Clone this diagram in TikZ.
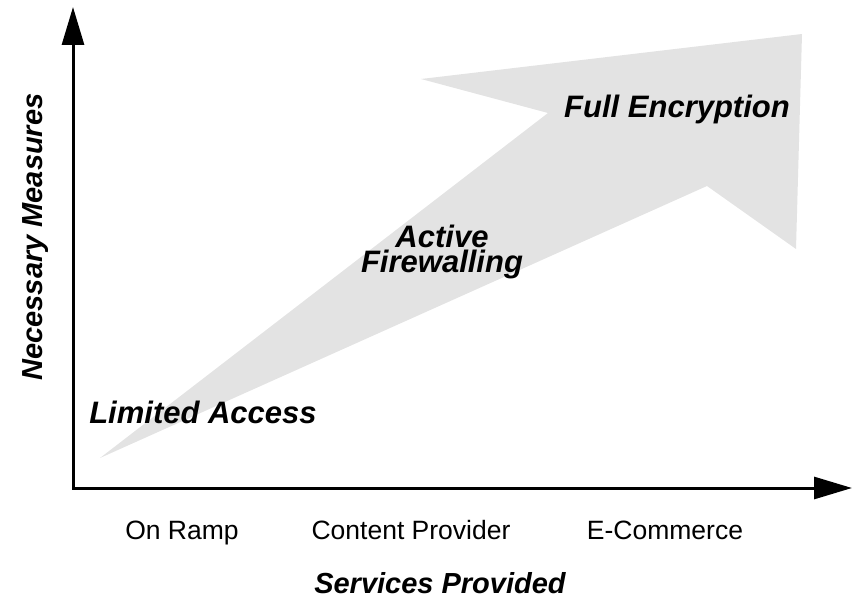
\documentclass[tikz,border=0pt]{standalone}
\usepackage{fontspec}
\setmainfont{Liberation Sans}
\usepackage{xcolor}
\definecolor{trendgray}{HTML}{E3E3E3}
\usepackage{tikz}
\usetikzlibrary{arrows.meta}

\begin{document}
\begin{tikzpicture}[x=1pt, y=-1pt,
    axis/.style={draw=black, line width=3pt, line join=miter,
                 {Triangle[length=38pt, width=22pt]}-{Triangle[length=38pt, width=22pt]}},
    trend/.style={fill=trendgray, draw=none},
    stage/.style={font=\fontsize{31}{25}\selectfont\bfseries\itshape, inner sep=0pt},
    axistitle/.style={font=\fontsize{29}{30}\selectfont\bfseries\itshape, inner sep=0pt},
    service/.style={font=\fontsize{26.5}{28}\selectfont, inner sep=0pt}]
  \useasboundingbox (0,0) rectangle (854,601);

  % broad trend arrow behind the axes
  \coordinate (tail)   at (100,458);
  \coordinate (notch1) at (548,113);
  \coordinate (barb1)  at (421,79);
  \coordinate (tip)    at (802,34);
  \coordinate (barb2)  at (796,249);
  \coordinate (notch2) at (707,186);
  \fill[trend] (tail) -- (notch1) -- (barb1) -- (tip) -- (barb2) -- (notch2) -- cycle;

  % axes
  \coordinate (origin) at (73,488);
  \coordinate (ytop)   at (73,7);
  \coordinate (xend)   at (852,488);
  \draw[axis] (ytop) -- (origin) -- (xend);

  % stages along the arrow
  \node[stage, anchor=base] (limited) at (203,423) {Limited Access};
  \node[stage, align=center] (active) at (442,252) {Active\\Firewalling};
  \node[stage, anchor=base] (full) at (677,118) {Full Encryption};

  % services on the x axis
  \node[service, anchor=base] (onramp) at (182,539) {On Ramp};
  \node[service, anchor=base] (content) at (411,539) {Content Provider};
  \node[service, anchor=base] (ecommerce) at (665,539) {E-Commerce};

  % axis titles
  \node[axistitle, anchor=base] (xtitle) at (440,593) {Services Provided};
  \node[axistitle, anchor=base, rotate=90] (ytitle) at (42,237) {Necessary Measures};
\end{tikzpicture}
\end{document}
